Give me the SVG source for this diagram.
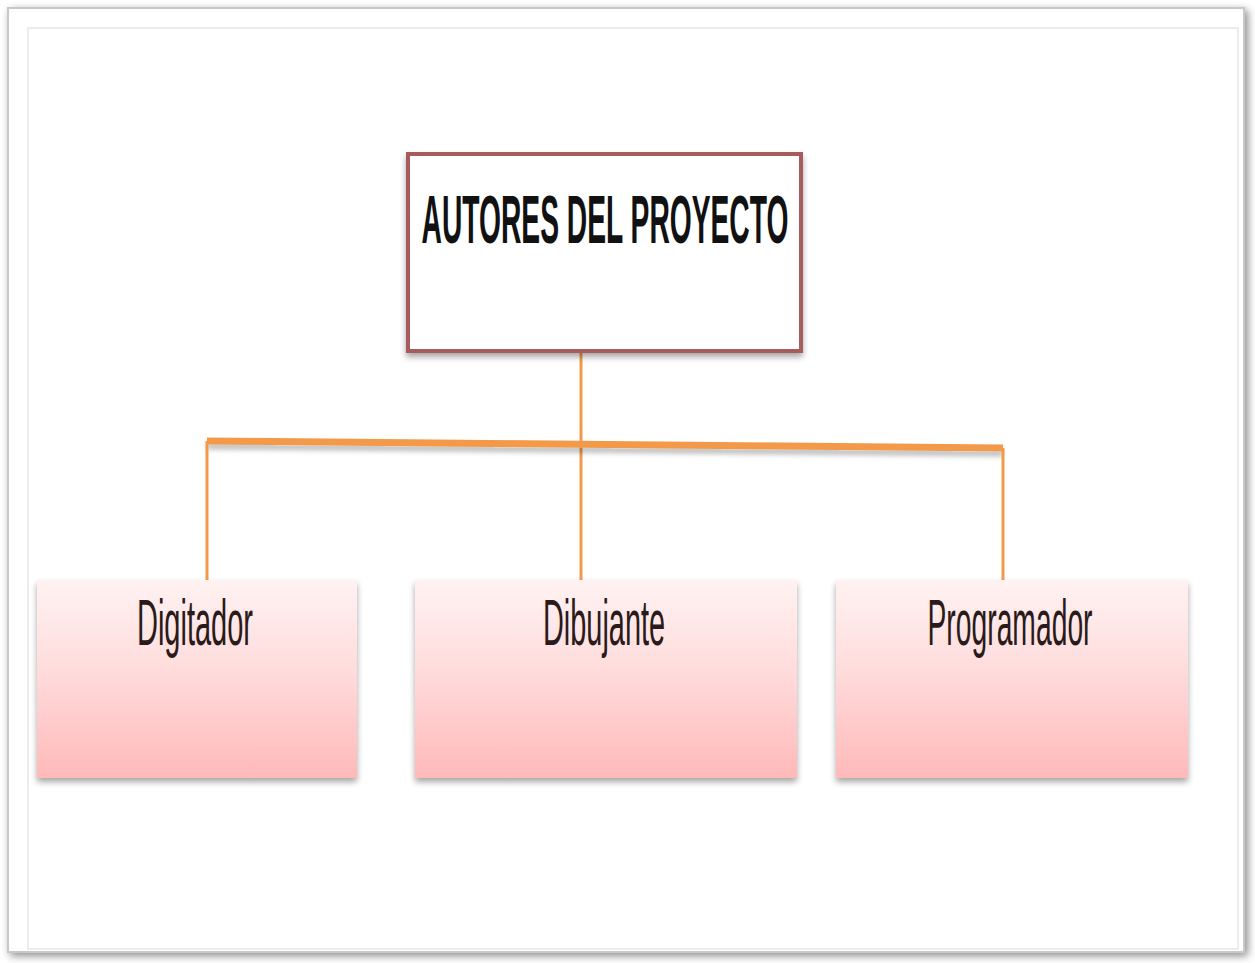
<svg xmlns="http://www.w3.org/2000/svg" width="1255" height="963" viewBox="0 0 1255 963">
  <defs>
    <linearGradient id="roleFill" x1="0" y1="0" x2="0" y2="1">
      <stop offset="0" stop-color="#fff2f2"/>
      <stop offset="0.45" stop-color="#ffdcdc"/>
      <stop offset="1" stop-color="#ffb9b9"/>
    </linearGradient>
    <filter id="soft" x="-10%" y="-10%" width="125%" height="130%">
      <feGaussianBlur in="SourceAlpha" stdDeviation="3"/>
      <feOffset dx="0" dy="4" result="b"/>
      <feComponentTransfer><feFuncA type="linear" slope="0.35"/></feComponentTransfer>
      <feMerge><feMergeNode/><feMergeNode in="SourceGraphic"/></feMerge>
    </filter>
    <filter id="barShadow" x="-5%" y="-200%" width="110%" height="500%">
      <feGaussianBlur in="SourceAlpha" stdDeviation="2.5"/>
      <feOffset dx="0" dy="5"/>
      <feComponentTransfer><feFuncA type="linear" slope="0.25"/></feComponentTransfer>
      <feMerge><feMergeNode/><feMergeNode in="SourceGraphic"/></feMerge>
    </filter>
    <filter id="frameShadow" x="-5%" y="-5%" width="110%" height="110%">
      <feGaussianBlur in="SourceAlpha" stdDeviation="4"/>
      <feOffset dx="3" dy="3"/>
      <feComponentTransfer><feFuncA type="linear" slope="0.45"/></feComponentTransfer>
      <feMerge><feMergeNode/><feMergeNode in="SourceGraphic"/></feMerge>
    </filter>
  </defs>
  <style>
    .role { fill: url(#roleFill); filter: url(#soft); }
    .label { font-family: "Liberation Sans", Arial, sans-serif; fill: #2a1a1a; text-anchor: middle; }
    .title { font-family: "Liberation Sans", Arial, sans-serif; fill: #111111; font-weight: bold; text-anchor: middle; }
    .link { stroke: #f29a4a; fill: none; stroke-linecap: butt; }
  </style>

  <rect width="1255" height="963" fill="#ffffff"/>

  <!-- page frame -->
  <g id="frame">
    <rect x="8" y="8" width="1236" height="944" fill="#ffffff" stroke="#c8c8c8" stroke-width="2" filter="url(#frameShadow)"/>
    <rect x="28" y="28" width="1210" height="921" fill="none" stroke="#e6e6e6" stroke-width="1.5"/>
  </g>

  <!-- connectors -->
  <g id="connectors">
    <line class="link" x1="581" y1="352" x2="581" y2="582" stroke-width="3"/>
    <path class="link" d="M207 441 L1003 448" stroke-width="7" filter="url(#barShadow)"/>
    <line class="link" x1="207" y1="441" x2="207" y2="580" stroke-width="3"/>
    <line class="link" x1="1003" y1="448" x2="1003" y2="580" stroke-width="3"/>
  </g>

  <!-- root -->
  <g id="root">
    <rect x="408" y="154" width="393" height="197" fill="#ffffff" stroke="#a65c5c" stroke-width="4" filter="url(#soft)"/>
    <text class="title" font-size="68" transform="translate(605,243) scale(0.415,1)">AUTORES DEL PROYECTO</text>
  </g>

  <!-- roles -->
  <g id="digitador">
    <rect class="role" x="37" y="580" width="320" height="198"/>
    <text class="label" font-size="64" transform="translate(195,645) scale(0.453,1)">Digitador</text>
  </g>
  <g id="dibujante">
    <rect class="role" x="415" y="580" width="382" height="198"/>
    <text class="label" font-size="64" transform="translate(604,645) scale(0.452,1)">Dibujante</text>
  </g>
  <g id="programador">
    <rect class="role" x="836" y="580" width="352" height="198"/>
    <text class="label" font-size="64" transform="translate(1010,645) scale(0.442,1)">Programador</text>
  </g>
</svg>
